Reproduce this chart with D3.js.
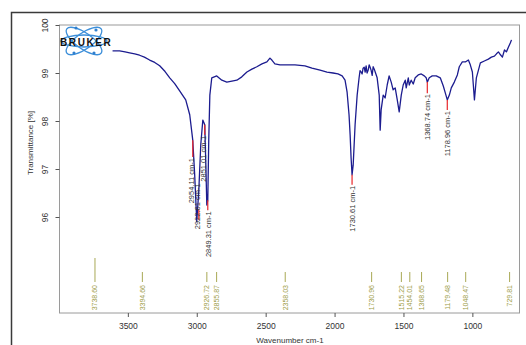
<!DOCTYPE html>
<html>
<head>
<meta charset="utf-8">
<script src="https://cdn.jsdelivr.net/npm/d3@7"></script>
<style>
  body { margin: 0; background: #fff; }
  svg { display: block; font-family: "Liberation Sans", Arial, sans-serif; }
</style>
</head>
<body>
<div id="chart"></div>
<script>
// spectrum (wavenumber cm-1, transmittance %)
const wavenumber = [3611, 3560, 3520, 3487, 3450, 3415, 3380, 3342, 3305, 3269, 3230, 3196, 3160, 3124, 3080, 3051,
  3029, 3015, 3000, 2985, 2971, 2956, 2942, 2935, 2927, 2920, 2913, 2905, 2891, 2855, 2818, 2782, 2745, 2709,
  2673, 2636, 2600, 2564, 2527, 2491, 2469, 2455, 2433, 2396, 2345, 2287, 2215, 2164, 2105, 2055, 2011, 1975,
  1945, 1924, 1909, 1895, 1887, 1880, 1873, 1865, 1858, 1851, 1836, 1822, 1815, 1807, 1800, 1793, 1785, 1778,
  1771, 1764, 1756, 1749, 1742, 1735, 1727, 1720, 1712, 1705, 1691, 1676, 1669, 1662, 1647, 1633, 1618, 1604,
  1589, 1575, 1560, 1545, 1531, 1516, 1502, 1487, 1480, 1465, 1458, 1444, 1429, 1415, 1393, 1371, 1349, 1335,
  1327, 1313, 1291, 1262, 1233, 1211, 1196, 1182, 1167, 1153, 1131, 1109, 1095, 1073, 1051, 1029, 1015, 1000,
  993, 985, 971, 956, 942, 913, 884, 862, 840, 825, 811, 796, 782, 767, 753, 738, 724, 716];
const transmittance = [99.46, 99.46, 99.44, 99.42, 99.40, 99.37, 99.33, 99.27, 99.22, 99.15, 99.03, 98.90, 98.78,
  98.63, 98.44, 98.13, 97.60, 96.88, 95.90, 96.56, 97.50, 98.02, 97.92, 97.19, 96.25, 96.35, 97.60, 98.54,
  98.90, 98.94, 98.85, 98.81, 98.83, 98.85, 98.92, 99.02, 99.08, 99.13, 99.19, 99.23, 99.31, 99.27, 99.19,
  99.17, 99.17, 99.17, 99.15, 99.10, 99.06, 99.02, 99.00, 98.98, 98.94, 98.85, 98.60, 98.13, 97.71, 97.23,
  96.88, 97.08, 97.50, 97.92, 98.54, 98.90, 99.05, 99.02, 98.98, 99.10, 99.12, 99.02, 99.15, 99.00, 99.06,
  99.17, 99.12, 99.06, 98.95, 99.13, 99.08, 99.02, 98.90, 98.54, 97.81, 98.23, 98.54, 98.48, 98.75, 98.94,
  98.81, 98.65, 98.69, 98.44, 98.19, 98.54, 98.75, 98.85, 98.69, 98.90, 98.75, 98.85, 98.77, 98.90, 98.96,
  98.98, 98.94, 98.90, 98.81, 98.90, 98.94, 98.94, 98.90, 98.73, 98.58, 98.44, 98.54, 98.69, 98.81, 98.96,
  99.13, 99.23, 99.23, 99.27, 99.17, 99.02, 98.75, 98.44, 98.90, 99.06, 99.21, 99.25, 99.29, 99.33, 99.35,
  99.40, 99.44, 99.38, 99.33, 99.48, 99.44, 99.54, 99.63, 99.69];

// annotated peaks on the curve
const peakWn = [3029, 2985, 2942, 2920, 1873, 1327, 1182];
const peakT = [97.6, 96.15, 97.92, 96.35, 96.88, 98.81, 98.44];
const peakLabelWn = [3044, 3000, 2956, 2920, 1873, 1327, 1182];
const peakLabelT = [97.25, 96.7, 97.75, 96.35, 96.67, 98.58, 98.23];
const peakLabel = ['2954.11 cm-1', '2922.61 cm-1', '2851.01 cm-1', '2849.31 cm-1', '1730.61 cm-1', '1368.74 cm-1', '1178.96 cm-1'];

// peak picks along the bottom
const pickWn = [3738.60, 3394.66, 2926.72, 2855.87, 2358.03, 1730.96, 1515.22, 1454.01, 1368.65, 1179.48, 1048.47, 729.81];
const pickLong = [true, false, false, false, false, false, false, false, false, false, false, false];

const xTicks = [3500, 3000, 2500, 2000, 1500, 1000];
const yTicks = [96, 97, 98, 99, 100];

const width = 526, height = 345;
const plot = { left: 59.5, right: 519.5, top: 25, bottom: 313 };

const svg = d3.select('#chart').append('svg')
  .attr('width', width)
  .attr('height', height);

const x = d3.scaleLinear().domain([3996, 658]).range([plot.left, plot.right]);
const y = d3.scaleLinear().domain([94, 100]).range([plot.bottom, plot.top]);

// outer frame (cropped page)
svg.append('path')
  .attr('d', `M11.5,${height} V12.5 H${width}`)
  .attr('fill', 'none')
  .attr('stroke', '#3a3a3a')
  .attr('stroke-width', 1.5);

// plot box
svg.append('rect')
  .attr('x', plot.left).attr('y', plot.top)
  .attr('width', plot.right - plot.left).attr('height', plot.bottom - plot.top)
  .attr('fill', 'none')
  .attr('stroke', '#9a9a9a')
  .attr('stroke-width', 1);

// axes
const xAxis = svg.append('g')
  .attr('transform', `translate(0,${plot.bottom})`)
  .call(d3.axisBottom(x).tickValues(xTicks).tickSize(4).tickFormat(d3.format('d')));
xAxis.select('.domain').remove();
xAxis.selectAll('line').attr('stroke', '#555');
xAxis.selectAll('text').attr('font-size', 8.5).attr('fill', '#333').attr('dy', '1.05em');

const yAxis = svg.append('g')
  .attr('transform', `translate(${plot.left},0)`)
  .call(d3.axisLeft(y).tickValues(yTicks).tickSize(4).tickFormat(d3.format('d')));
yAxis.select('.domain').remove();
yAxis.selectAll('line').attr('stroke', '#555');
yAxis.selectAll('text')
  .attr('font-size', 8.5).attr('fill', '#333')
  .attr('text-anchor', 'middle')
  .attr('x', 0).attr('dy', 0)
  .attr('transform', 'translate(-12,0) rotate(-90)');

svg.append('text')
  .attr('transform', `translate(33,143) rotate(-90)`)
  .attr('text-anchor', 'middle')
  .attr('font-size', 8)
  .attr('fill', '#333')
  .text('Transmittance [%]');

svg.append('text')
  .attr('x', 290).attr('y', 343)
  .attr('text-anchor', 'middle')
  .attr('font-size', 8)
  .attr('fill', '#333')
  .text('Wavenumber cm-1');

// bruker logo
const logo = svg.append('g').attr('transform', 'translate(84,41)');
[-35, 35, 0].forEach((a, i) => {
  logo.append('ellipse')
    .attr('rx', i === 2 ? 23 : 21).attr('ry', i === 2 ? 6 : 8)
    .attr('transform', `rotate(${a})`)
    .attr('fill', 'none')
    .attr('stroke', '#3d8fd9')
    .attr('stroke-width', 1.3);
});
[[-8, -13], [12, -11], [-10, 12], [10, 12]].forEach(p => {
  logo.append('circle').attr('cx', p[0]).attr('cy', p[1]).attr('r', 1.6).attr('fill', '#2f7fcf');
});
logo.append('text')
  .attr('x', -24).attr('y', 4.5)
  .attr('font-size', 10)
  .attr('font-weight', 'bold')
  .attr('letter-spacing', 1.6)
  .attr('fill', '#111')
  .text('BRUKER');

// spectrum
const line = d3.line()
  .x((d, i) => x(wavenumber[i]))
  .y(d => y(d));

svg.append('path')
  .datum(transmittance)
  .attr('d', line)
  .attr('fill', 'none')
  .attr('stroke', '#1c1c8f')
  .attr('stroke-width', 1.3)
  .attr('stroke-linejoin', 'round');

// peak markers
const peaks = svg.append('g');
peakWn.forEach((wn, i) => {
  const py = y(peakT[i]);
  const ly = y(peakLabelT[i]);
  peaks.append('line')
    .attr('x1', x(wn)).attr('x2', x(wn))
    .attr('y1', py).attr('y2', Math.max(py + 10, ly))
    .attr('stroke', '#e8262a')
    .attr('stroke-width', 1.2);
  const labelY = ly < py ? ly : Math.max(py + 11, ly + 1);
  peaks.append('text')
    .attr('transform', `translate(${x(peakLabelWn[i]) + 3},${labelY}) rotate(-90)`)
    .attr('text-anchor', 'end')
    .attr('font-size', 7.5)
    .attr('fill', '#333')
    .text(peakLabel[i]);
});

// picks
const picks = svg.append('g');
pickWn.forEach((wn, i) => {
  picks.append('line')
    .attr('x1', x(wn)).attr('x2', x(wn))
    .attr('y1', pickLong[i] ? 258 : 272).attr('y2', 282)
    .attr('stroke', '#a9a955')
    .attr('stroke-width', 1);
  picks.append('text')
    .attr('transform', `translate(${x(wn) + 2.5},285) rotate(-90)`)
    .attr('text-anchor', 'end')
    .attr('font-size', 7)
    .attr('fill', '#9d9d48')
    .text(d3.format('.2f')(wn));
});
</script>
</body>
</html>
